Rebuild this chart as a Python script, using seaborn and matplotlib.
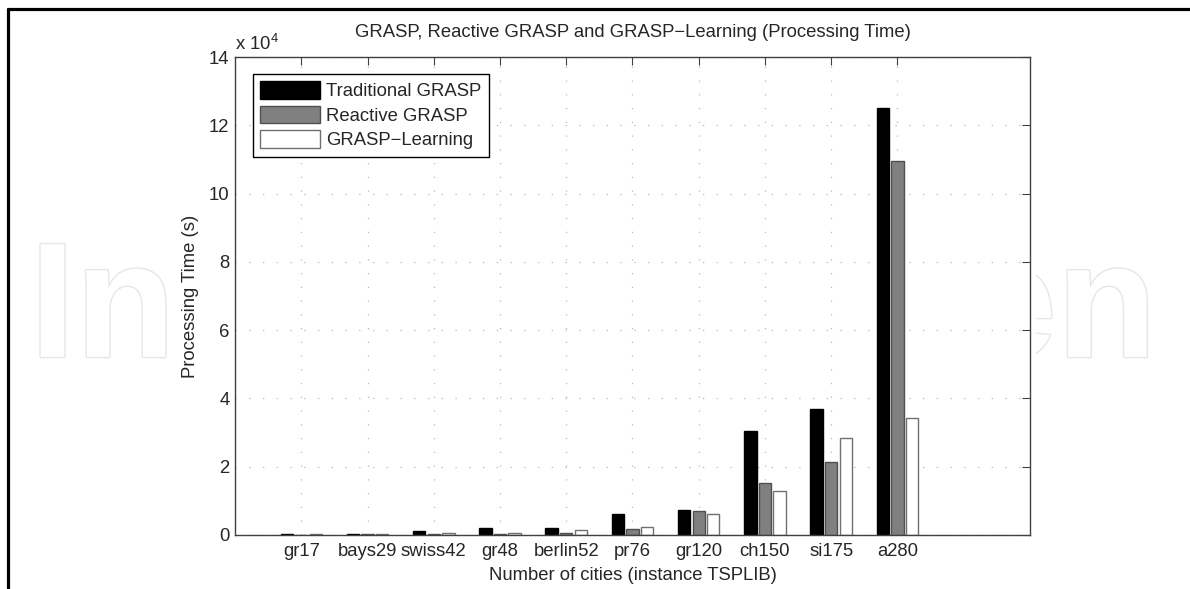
import numpy as np
import pandas as pd
import seaborn as sns
import matplotlib
matplotlib.use("Agg")
import matplotlib.pyplot as plt
from matplotlib.lines import Line2D
from matplotlib.patches import Rectangle
from matplotlib.ticker import FuncFormatter
import matplotlib.patheffects as pe

# values (seconds)
cities = ["gr17", "bays29", "swiss42", "gr48", "berlin52",
          "pr76", "gr120", "ch150", "si175", "a280"]
traditional = [200, 400, 1200, 2000, 2000, 6100, 7450, 30500, 36800, 125100]
reactive = [100, 150, 400, 300, 600, 1800, 7000, 15300, 21500, 109500]
learning = [300, 300, 700, 700, 1400, 2250, 6100, 12900, 28500, 34300]
methods = ["Traditional GRASP", "Reactive GRASP", "GRASP\u2212Learning"]

df = pd.DataFrame({
    "city": cities * 3,
    "method": [methods[0]] * 10 + [methods[1]] * 10 + [methods[2]] * 10,
    "time": traditional + reactive + learning,
})

sns.set_style("white")
plt.rcParams["font.family"] = ["Liberation Sans", "DejaVu Sans"]
plt.rcParams["mathtext.fontset"] = "custom"
plt.rcParams["mathtext.rm"] = "Liberation Sans"
plt.rcParams["mathtext.default"] = "regular"

FS = 13.3

fig = plt.figure(figsize=(11.9, 5.89), dpi=100)

# faint publisher watermark; the figure's white area hides its middle
wm = dict(fontsize=118, fontweight="bold", color="white", va="baseline", zorder=0.5,
          path_effects=[pe.withStroke(linewidth=2, foreground="#e6e6e6")])
fig.text(0.025, 0.394, "In", ha="left", **wm)
fig.text(0.972, 0.394, "en", ha="right", **wm)
fig.add_artist(Rectangle((0.1445, 0.0), 0.726, 0.975, transform=fig.transFigure,
                         facecolor="white", edgecolor="none", zorder=1))

ax = fig.add_axes([0.1975, 0.0917, 0.668, 0.8115])
ax.set_zorder(2)
ax.set_facecolor("white")

sns.barplot(data=df, x="city", y="time", hue="method", order=cities,
            hue_order=methods, palette=["#000000", "#808080", "#ffffff"],
            width=0.66, gap=0.15, ax=ax, legend=True, saturation=1)

edges = ["#000000", "#505050", "#707070"]
for cont, ec in zip(ax.containers, edges):
    for bar in cont:
        bar.set_edgecolor(ec)
        bar.set_linewidth(1.0)

ax.set_xlim(-1, 11)
ax.set_ylim(0, 140000)
ax.set_yticks(np.arange(0, 140001, 20000))
ax.yaxis.set_major_formatter(FuncFormatter(lambda v, p: "%d" % round(v / 1e4)))

ax.grid(True, color="#b8b8b8", linestyle=(0, (1, 10)), linewidth=0.9)
ax.set_axisbelow(True)
for s in ax.spines.values():
    s.set_color("#404040")
    s.set_linewidth(1.0)
ax.tick_params(direction="in", length=6, width=0.8, color="#404040",
               top=True, right=True, labelsize=FS, pad=4)
ax.tick_params(axis="x", pad=5.5)

ax.set_xlabel("Number of cities (instance TSPLIB)", fontsize=FS, labelpad=5)
ax.set_ylabel("Processing Time (s)", fontsize=FS, labelpad=7)
ax.text(0.0, 1.006, "x 10$^{4}$", transform=ax.transAxes, ha="left", va="bottom", fontsize=FS)
fig.text(0.5315, 0.944, "GRASP, Reactive GRASP and GRASP\u2212Learning (Processing Time)",
         ha="center", va="center", fontsize=FS, zorder=3)

leg = ax.legend(loc="upper left", bbox_to_anchor=(0.022, 0.965), fontsize=FS,
                frameon=True, fancybox=False, edgecolor="black", framealpha=1,
                handlelength=3.25, handleheight=1.08, labelspacing=0.3,
                handletextpad=0.35, borderpad=0.4, borderaxespad=0)
leg.get_frame().set_linewidth(1.0)
for h, ec in zip(leg.legend_handles, edges):
    h.set_edgecolor(ec)
    h.set_linewidth(1.0)

# black frame lines at top and left of the picture
fig.add_artist(Line2D([0.0067, 1.0], [0.9847, 0.9847], color="black", linewidth=2.3, zorder=3))
fig.add_artist(Line2D([0.0067, 0.0067], [0.0, 0.9847], color="black", linewidth=2.3, zorder=3))

fig.savefig("out.png", dpi=100)
